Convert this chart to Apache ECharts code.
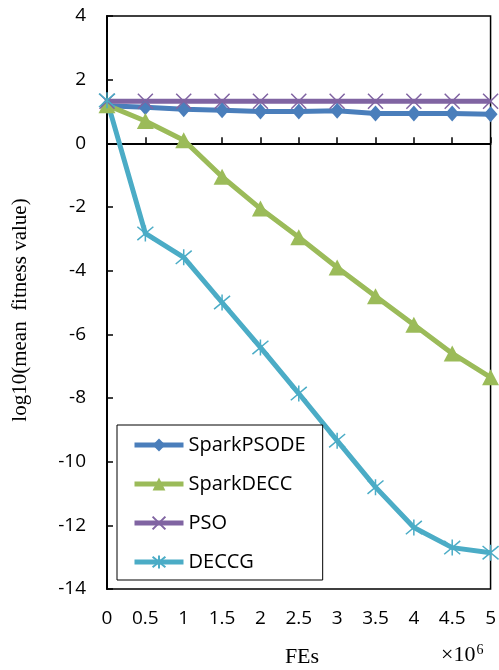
<!DOCTYPE html>
<html>
<head>
<meta charset="utf-8">
<script src="https://cdn.jsdelivr.net/npm/echarts@6/dist/echarts.min.js"></script>
<style>
html, body { margin: 0; padding: 0; background: #fff; }
#main { width: 499px; height: 670px; }
</style>
</head>
<body>
<div id="main"></div>
<script>
// FEs (x10^6)
var fes = [0, 0.5, 1, 1.5, 2, 2.5, 3, 3.5, 4, 4.5, 5]
var sparkPSODE = [1.18, 1.13, 1.07, 1.04, 1.0, 1.0, 1.02, 0.94, 0.94, 0.94, 0.91]
var sparkDECC = [1.2, 0.7, 0.1, -1.05, -2.05, -2.95, -3.9, -4.8, -5.7, -6.6, -7.35]
var pso = [1.32, 1.32, 1.32, 1.32, 1.32, 1.32, 1.32, 1.32, 1.32, 1.32, 1.32]
var deccg = [1.35, -2.83, -3.58, -5.0, -6.41, -7.86, -9.34, -10.8, -12.07, -12.7, -12.86]
var names = ['SparkPSODE', 'SparkDECC', 'PSO', 'DECCG']
var colors = ['#4a7ebb', '#9bbb59', '#8064a2', '#4bacc6']

function pairs(arr) {
    return arr.map(function (v, i) { return [fes[i], v] })
}

var xMark = 'path://M0,0L10,10M10,0L0,10'
var starMark = 'path://M0,1L12,11M12,1L0,11M6,0L6,12'

var myChart = echarts.init(document.getElementById('main'))
var option = {
    animation: false,
    color: colors,
    grid: {
        left: 107,
        top: 16,
        right: 7,
        bottom: 81,
        show: true,
        borderColor: '#000',
        borderWidth: 1.5
    },
    legend: {
        orient: 'vertical',
        left: 117,
        top: 425,
        data: names,
        itemWidth: 49,
        itemHeight: 16,
        itemGap: 19,
        padding: [10, 17, 8, 15],
        backgroundColor: '#fff',
        borderColor: '#000',
        borderWidth: 1,
        lineStyle: { width: 5 },
        textStyle: {
            color: '#000',
            fontSize: 20,
            fontFamily: 'Open Sans'
        }
    },
    xAxis: {
        type: 'value',
        min: 0,
        max: 5,
        interval: 0.5,
        axisLine: { lineStyle: { color: '#000', width: 2 } },
        axisTick: { inside: true, length: 6, lineStyle: { color: '#000', width: 1.5 } },
        axisLabel: { color: '#000', fontSize: 19, fontFamily: 'Open Sans', margin: 20 },
        splitLine: { show: false }
    },
    yAxis: {
        type: 'value',
        min: -14,
        max: 4,
        interval: 2,
        axisLine: { show: true, lineStyle: { color: '#000', width: 2 } },
        axisTick: { show: true, inside: true, length: 6, lineStyle: { color: '#000', width: 1.5 } },
        axisLabel: { color: '#000', fontSize: 19, fontFamily: 'Open Sans', margin: 21 },
        splitLine: { show: false }
    },
    graphic: [
        {
            type: 'text',
            x: 20, y: 310,
            rotation: Math.PI / 2,
            style: {
                text: 'log10(mean  fitness value)',
                font: '21px "Liberation Serif"',
                fill: '#000',
                textAlign: 'center',
                textVerticalAlign: 'middle'
            }
        },
        {
            type: 'text',
            x: 302, y: 657,
            style: {
                text: 'FEs',
                font: '22px "Liberation Serif"',
                fill: '#000',
                textAlign: 'center',
                textVerticalAlign: 'middle'
            }
        },
        {
            type: 'text',
            x: 441, y: 643,
            style: {
                text: '{a|×10}{b|6}',
                rich: {
                    a: { fontSize: 22, fontFamily: 'Liberation Serif', fill: '#000', verticalAlign: 'bottom' },
                    b: { fontSize: 14, fontFamily: 'Liberation Serif', fill: '#000', verticalAlign: 'top', padding: [0, 0, 9, 1] }
                }
            }
        }
    ],
    series: [
        {
            name: names[0],
            type: 'line',
            data: pairs(sparkPSODE),
            symbol: 'diamond',
            symbolSize: [14, 16],
            lineStyle: { width: 5, color: colors[0] },
            itemStyle: { color: colors[0] }
        },
        {
            name: names[1],
            type: 'line',
            data: pairs(sparkDECC),
            symbol: 'triangle',
            symbolSize: [17, 16],
            lineStyle: { width: 5, color: colors[1] },
            itemStyle: { color: colors[1] }
        },
        {
            name: names[2],
            type: 'line',
            data: pairs(pso),
            symbol: xMark,
            symbolSize: 15,
            lineStyle: { width: 5, color: colors[2] },
            itemStyle: { color: colors[2], borderColor: colors[2], borderWidth: 1.5 }
        },
        {
            name: names[3],
            type: 'line',
            data: pairs(deccg),
            symbol: starMark,
            symbolSize: 16,
            lineStyle: { width: 5, color: colors[3] },
            itemStyle: { color: colors[3], borderColor: colors[3], borderWidth: 1.5 }
        }
    ]
}
myChart.setOption(option)
</script>
</body>
</html>
